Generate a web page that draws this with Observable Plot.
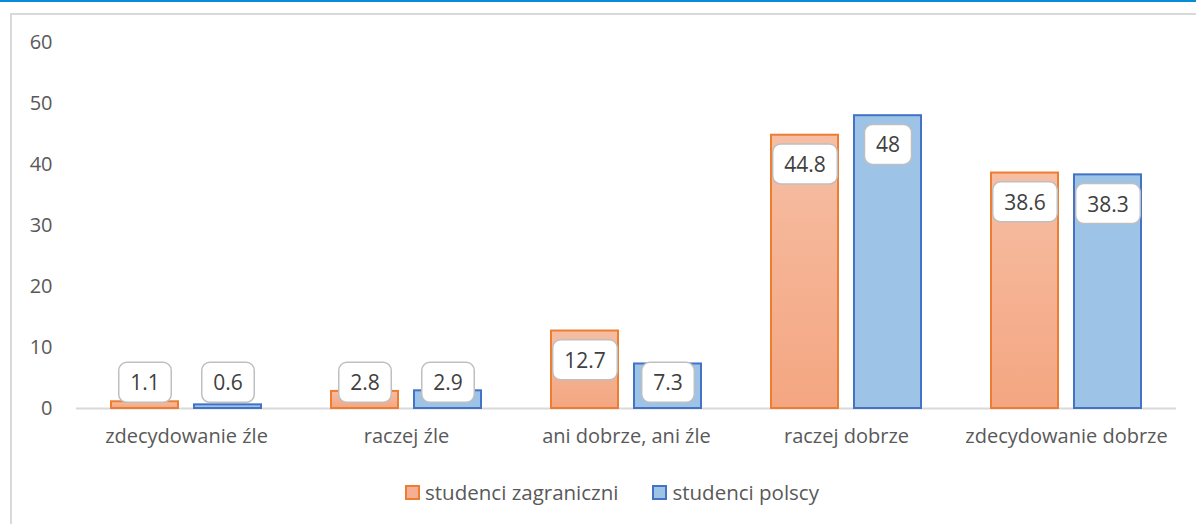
<!DOCTYPE html>
<html>
<head>
<meta charset="utf-8">
<script src="https://cdn.jsdelivr.net/npm/d3@7"></script>
<script src="https://cdn.jsdelivr.net/npm/@observablehq/plot@0.6"></script>
<style>
  html, body { margin: 0; padding: 0; background: #fff; }
  body { width: 1196px; height: 524px; position: relative; overflow: hidden; font-family: "Open Sans", sans-serif; }
  #topline { position: absolute; left: 0; top: 0; width: 1196px; height: 2px; background: #0a8bd6; }
  #frame { position: absolute; left: 10px; top: 13px; width: 1200px; height: 520px; border-left: 2px solid #d9d9d9; border-top: 2px solid #d9d9d9; }
  #chart { position: absolute; left: 0; top: 0; }
  #legend { position: absolute; left: 14px; top: 478px; width: 1196px; text-align: center; font-size: 20.5px; color: #595959; }
  #legend span.item { display: inline-block; margin: 0 17px; }
  #legend i { display: inline-block; width: 11px; height: 11px; border: 2px solid; margin-right: 5px; vertical-align: 0px; }
</style>
</head>
<body>
<div id="topline"></div>
<div id="frame"></div>
<div id="chart"></div>
<div id="legend"></div>
<script>
const categories = ["zdecydowanie źle", "raczej źle", "ani dobrze, ani źle", "raczej dobrze", "zdecydowanie dobrze"];
const series = ["studenci zagraniczni", "studenci polscy"];
const zagraniczni = [1.1, 2.8, 12.7, 44.8, 38.6];
const polscy = [0.6, 2.9, 7.3, 48, 38.3];
const yTicks = [0, 10, 20, 30, 40, 50, 60];

const data = [];
categories.forEach((c, i) => {
  data.push({cat: c, series: series[0], value: zagraniczni[i]});
  data.push({cat: c, series: series[1], value: polscy[i]});
});

const chart = Plot.plot({
  width: 1196,
  height: 460,
  marginTop: 42,
  marginBottom: 52,
  marginLeft: 74,
  marginRight: 18,
  style: {fontFamily: "'Open Sans', sans-serif", fontSize: "20px", color: "#595959", background: "transparent"},
  facet: {data, x: "cat"},
  fx: {domain: categories, padding: 0, label: null, tickSize: 0, tickPadding: 20, axis: "bottom"},
  x: {domain: series, paddingInner: 0.19, paddingOuter: 0.41, axis: null},
  y: {domain: [0, 60], ticks: yTicks, tickSize: 0, tickPadding: 24, label: null},
  marks: [
    Plot.ruleY([0], {stroke: "#d9d9d9", strokeWidth: 2}),
    Plot.barY(data, {filter: d => d.series === series[0], x: "series", y: "value", fill: "url(#gradO)", stroke: "#ED7D31", strokeWidth: 2}),
    Plot.barY(data, {filter: d => d.series === series[1], x: "series", y: "value", fill: "#9DC3E6", stroke: "#4472C4", strokeWidth: 2}),
    Plot.text(data, {x: "series", y: d => Math.max(d.value, 9), dy: 30, text: d => String(d.value), fill: "#404040", fontSize: 21})
  ]
});
document.getElementById("chart").appendChild(chart);

// gradient defs
const ns = "http://www.w3.org/2000/svg";
const defs = document.createElementNS(ns, "defs");
defs.innerHTML = '<linearGradient id="gradO" x1="0" y1="0" x2="0" y2="1"><stop offset="0" stop-color="#F6BEA4"/><stop offset="1" stop-color="#F4A681"/></linearGradient>';
chart.insertBefore(defs, chart.firstChild);

// label boxes
chart.querySelectorAll('g[aria-label="text"] text').forEach(t => {
  const b = t.getBBox();
  const w = b.width + 23, h = 40;
  const r = document.createElementNS(ns, "rect");
  r.setAttribute("x", b.x + b.width / 2 - w / 2);
  r.setAttribute("y", b.y + b.height / 2 - h / 2);
  r.setAttribute("width", w);
  r.setAttribute("height", h);
  r.setAttribute("rx", 8);
  r.setAttribute("fill", "#fff");
  r.setAttribute("stroke", "#BFBFBF");
  r.setAttribute("stroke-width", 1.5);
  const tr = t.getAttribute("transform");
  if (tr) r.setAttribute("transform", tr);
  t.parentNode.insertBefore(r, t);
});

// legend
const legend = document.getElementById("legend");
const swatch = [["#F5B093", "#ED7D31"], ["#9DC3E6", "#4472C4"]];
series.forEach((s, i) => {
  const span = document.createElement("span");
  span.className = "item";
  const sq = document.createElement("i");
  sq.style.background = swatch[i][0];
  sq.style.borderColor = swatch[i][1];
  span.appendChild(sq);
  span.appendChild(document.createTextNode(s));
  legend.appendChild(span);
});
</script>
</body>
</html>
